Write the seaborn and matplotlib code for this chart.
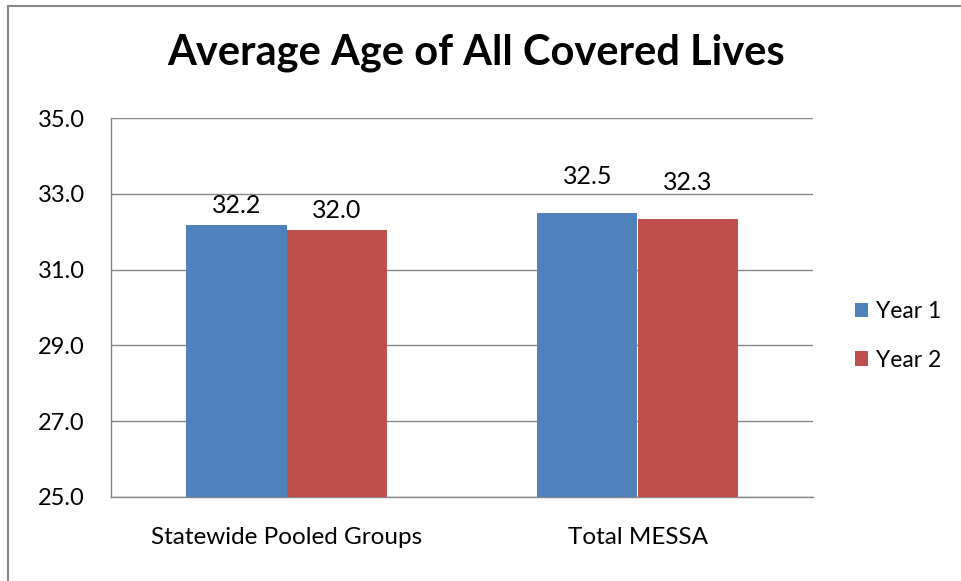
import numpy as np
import pandas as pd
import matplotlib
matplotlib.use('Agg')
import matplotlib.pyplot as plt
from matplotlib.lines import Line2D
import seaborn as sns

# ========== 数据 ==========
categories = ['Statewide Pooled Groups', 'Total MESSA']
years = ['Year 1', 'Year 2']
year1_ages = [32.17, 32.49]
year2_ages = [32.05, 32.33]
yticks = [25.0, 27.0, 29.0, 31.0, 33.0, 35.0]

df = pd.DataFrame({
    'group': categories * 2,
    'year': [years[0]] * 2 + [years[1]] * 2,
    'age': year1_ages + year2_ages,
})

# ========== 样式 ==========
sns.set_style('white')
plt.rcParams['font.family'] = ['Lato', 'DejaVu Sans']
plt.rcParams['text.color'] = 'black'
plt.rcParams['xtick.color'] = 'black'
plt.rcParams['ytick.color'] = 'black'
grid_gray = '#868686'
palette = {'Year 1': '#4F81BD', 'Year 2': '#C0504D'}

fig = plt.figure(figsize=(9.61, 5.81), dpi=100)
ax = fig.add_axes([111 / 961, 0.145, 702 / 961, 0.6515])

sns.barplot(data=df, x='group', y='age', hue='year', order=categories,
            hue_order=years, palette=palette, width=0.57, saturation=1,
            linewidth=0, ax=ax, zorder=3)

ax.set_ylim(25, 35)
ax.set_yticks(yticks)
ax.set_yticklabels([f'{t:.1f}' for t in yticks], fontsize=17)
ax.tick_params(axis='y', length=0, pad=19)
ax.tick_params(axis='x', length=0, pad=22, labelsize=17.5)
ax.set_xlabel('')
ax.set_ylabel('')
ax.yaxis.grid(True, color=grid_gray, linewidth=1)
ax.set_axisbelow(True)
for s in ['top', 'right']:
    ax.spines[s].set_visible(False)
for s in ['left', 'bottom']:
    ax.spines[s].set_color(grid_gray)
    ax.spines[s].set_linewidth(1)

# 数据标签（Excel 的标签位置略不一致）
label_pad = [6, 18]
for cont in ax.containers:
    for i, bar in enumerate(cont):
        h = bar.get_height()
        ax.annotate(f'{h:.1f}', (bar.get_x() + bar.get_width() / 2, h),
                    xytext=(0, label_pad[i]), textcoords='offset points',
                    ha='center', va='bottom', fontsize=18)

leg = ax.legend(loc='center left', bbox_to_anchor=(1.03, 0.425), frameon=False,
                fontsize=16.5, handlelength=0.6, handleheight=0.6,
                handletextpad=0.35, labelspacing=1.2)

fig.text(0.495, 0.91, 'Average Age of All Covered Lives', ha='center',
         va='center', fontsize=30, fontweight='bold')

# 图表外框
fig.add_artist(Line2D([8 / 961, 8 / 961], [0, 1 - 6 / 581], color=grid_gray, lw=1.5))
fig.add_artist(Line2D([8 / 961, 1], [1 - 6 / 581, 1 - 6 / 581], color=grid_gray, lw=1.5))

fig.savefig('out.png', dpi=100, facecolor='white')
